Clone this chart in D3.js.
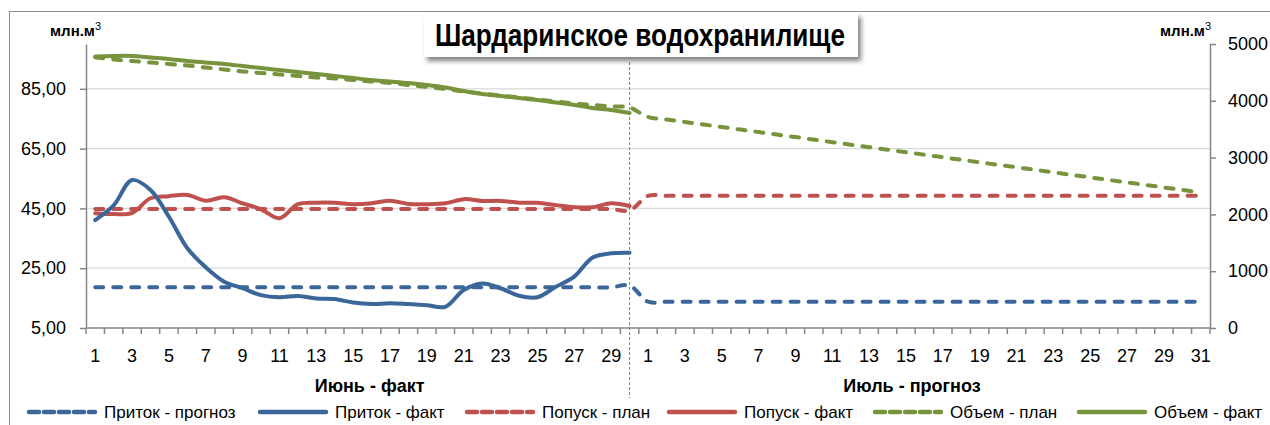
<!DOCTYPE html>
<meta charset="utf-8">
<style>
  body { margin: 0; background: #fff; }
  svg text { font-family: "Liberation Sans Narrow", "Arial Narrow", "Liberation Sans", sans-serif; fill: #000; }
  .axis path, .axis line { stroke: #868686; stroke-width: 1.5; }
  .grid line { stroke: #d9d9d9; stroke-width: 1.2; }
</style>
<body>
<script src="https://d3js.org/d3.v7.min.js"></script>
<script>
var width = 1270,
    height = 425;

// categories: June (fact) then July (forecast)
var juneDays = d3.range(1, 31);
var julyDays = d3.range(1, 32);
var days = juneDays.concat(julyDays);
var groupLabels = ["Июнь - факт", "Июль - прогноз"];

var leftTicks = [5, 25, 45, 65, 85];
var rightTicks = [0, 1000, 2000, 3000, 4000, 5000];

// Приток - прогноз (June + July)
var inflowPlan = [18.6, 18.6, 18.6, 18.6, 18.6, 18.6, 18.6, 18.6, 18.6, 18.6,
  18.6, 18.6, 18.6, 18.6, 18.6, 18.6, 18.6, 18.6, 18.6, 18.6,
  18.6, 18.6, 18.6, 18.6, 18.6, 18.6, 18.6, 18.6, 18.6, 19.2,
  13.8, 13.8, 13.8, 13.8, 13.8, 13.8, 13.8, 13.8, 13.8, 13.8,
  13.8, 13.8, 13.8, 13.8, 13.8, 13.8, 13.8, 13.8, 13.8, 13.8,
  13.8, 13.8, 13.8, 13.8, 13.8, 13.8, 13.8, 13.8, 13.8, 13.8, 13.8];
// Приток - факт (June only)
var inflowFact = [41.1, 46.0, 54.5, 51.2, 42.2, 31.7, 25.3, 20.5, 18.3, 16.0,
  15.3, 15.7, 14.9, 14.7, 13.5, 13.0, 13.3, 13.0, 12.6, 12.1,
  17.7, 19.9, 18.3, 15.8, 15.3, 18.8, 22.2, 28.6, 30.0, 30.2];
// Попуск - план
var releasePlan = [44.8, 44.8, 44.8, 44.8, 44.8, 44.8, 44.8, 44.8, 44.8, 44.8,
  44.8, 44.8, 44.8, 44.8, 44.8, 44.8, 44.8, 44.8, 44.8, 44.8,
  44.8, 44.8, 44.8, 44.8, 44.8, 44.8, 44.8, 44.8, 44.8, 44.3,
  49.2, 49.2, 49.2, 49.2, 49.2, 49.2, 49.2, 49.2, 49.2, 49.2,
  49.2, 49.2, 49.2, 49.2, 49.2, 49.2, 49.2, 49.2, 49.2, 49.2,
  49.2, 49.2, 49.2, 49.2, 49.2, 49.2, 49.2, 49.2, 49.2, 49.2, 49.2];
// Попуск - факт
var releaseFact = [43.4, 43.1, 43.5, 48.4, 49.1, 49.5, 47.6, 48.7, 46.7, 44.7,
  41.7, 46.4, 46.9, 46.9, 46.4, 46.7, 47.6, 46.5, 46.4, 46.7,
  48.1, 47.5, 47.5, 46.9, 46.9, 46.1, 45.4, 45.4, 46.7, 45.8];
// Объем - план (right axis)
var volumePlan = [4766, 4727, 4701, 4674, 4648, 4621, 4586, 4551, 4516, 4489,
  4463, 4437, 4410, 4393, 4366, 4340, 4313, 4278, 4243, 4208,
  4164, 4129, 4093, 4058, 4023, 3988, 3952, 3926, 3900, 3882,
  3715, 3671, 3627, 3583, 3538, 3494, 3450, 3405, 3361, 3317,
  3272, 3228, 3184, 3139, 3095, 3051, 3006, 2962, 2918, 2873,
  2829, 2785, 2740, 2696, 2652, 2607, 2563, 2519, 2474, 2430, 2386];
// Объем - факт (right axis)
var volumeFact = [4780, 4789, 4789, 4762, 4736, 4701, 4674, 4648, 4613, 4577,
  4542, 4507, 4472, 4437, 4401, 4366, 4340, 4313, 4278, 4234,
  4173, 4120, 4085, 4049, 4014, 3970, 3926, 3873, 3838, 3785];

var blue = "#3a6699", red = "#c0504d", green = "#77933c";

var series = [
  { name: "Приток - прогноз", values: inflowPlan, axis: "L", color: blue, dash: true },
  { name: "Приток - факт", values: inflowFact, axis: "L", color: blue, dash: false },
  { name: "Попуск - план", values: releasePlan, axis: "L", color: red, dash: true },
  { name: "Попуск - факт", values: releaseFact, axis: "L", color: red, dash: false },
  { name: "Объем - план", values: volumePlan, axis: "R", color: green, dash: true },
  { name: "Объем - факт", values: volumeFact, axis: "R", color: green, dash: false }
];

var svg = d3.select("body").append("svg")
    .attr("width", width)
    .attr("height", height);

var defs = svg.append("defs");
var f = defs.append("filter").attr("id", "shadow")
    .attr("x", "-10%").attr("y", "-20%").attr("width", "130%").attr("height", "160%");
f.append("feDropShadow").attr("dx", 3).attr("dy", 4)
    .attr("stdDeviation", 2.5).attr("flood-color", "#000").attr("flood-opacity", 0.5);

// outer frame
svg.append("rect")
    .attr("x", 9.5).attr("y", 11.5)
    .attr("width", 1300).attr("height", 450)
    .attr("fill", "none").attr("stroke", "#8c8c8c");

var x = d3.scaleBand().domain(d3.range(days.length)).range([86, 1210]);
var yL = d3.scaleLinear().domain([5, 100]).range([328, 44]);
var yR = d3.scaleLinear().domain([0, 5000]).range([328, 44]);
var cx = function(i) { return x(i) + x.bandwidth() / 2; };

// gridlines
svg.append("g").attr("class", "grid")
  .selectAll("line")
  .data(leftTicks.slice(1))
  .enter().append("line")
    .attr("x1", 86).attr("x2", 1210)
    .attr("y1", function(d) { return yL(d); })
    .attr("y2", function(d) { return yL(d); });

// left axis
var fmt = d3.format(".2f");
svg.append("g").attr("class", "axis")
    .attr("transform", "translate(86,0)")
    .call(d3.axisLeft(yL).tickValues(leftTicks).tickSize(6).tickSizeOuter(0).tickPadding(14)
      .tickFormat(function(d) { return fmt(d).replace(".", ","); }))
    .call(function(g) { g.selectAll("text").style("font-size", "18px"); });

// right axis
svg.append("g").attr("class", "axis")
    .attr("transform", "translate(1210,0)")
    .call(d3.axisRight(yR).tickValues(rightTicks).tickSize(6).tickSizeOuter(0).tickPadding(12)
      .tickFormat(d3.format("d")))
    .call(function(g) { g.selectAll("text").style("font-size", "18px"); });

// x axis
var xg = svg.append("g").attr("class", "axis");
xg.append("line")
    .attr("x1", 86).attr("x2", 1210).attr("y1", 328).attr("y2", 328);
xg.selectAll(".tk")
  .data(d3.range(days.length + 1))
  .enter().append("line")
    .attr("class", "tk")
    .attr("x1", function(i) { return 86 + i * x.step(); })
    .attr("x2", function(i) { return 86 + i * x.step(); })
    .attr("y1", 328).attr("y2", 334);
svg.append("g").selectAll("text")
  .data(days.map(function(d, i) { return { d: d, i: i }; }).filter(function(o) { return o.d % 2 === 1; }))
  .enter().append("text")
    .attr("x", function(o) { return cx(o.i); })
    .attr("y", 362)
    .attr("text-anchor", "middle")
    .style("font-size", "18px")
    .text(function(o) { return o.d; });

// group labels
var groupX = [cx(15) - 2, cx(44) + 6];
svg.append("g").selectAll("text")
  .data(groupLabels)
  .enter().append("text")
    .attr("x", function(d, i) { return groupX[i]; })
    .attr("y", 392)
    .attr("text-anchor", "middle")
    .style("font-size", "18px")
    .style("font-weight", "bold")
    .text(function(d) { return d; });

// divider between fact and forecast
svg.append("line")
    .attr("x1", cx(29)).attr("x2", cx(29))
    .attr("y1", 62).attr("y2", 398)
    .attr("stroke", "#7f7f7f").attr("stroke-width", 1)
    .attr("stroke-dasharray", "3,2");

// lines
var lineL = d3.line()
    .defined(function(d) { return d != null; })
    .x(function(d, i) { return cx(i); })
    .y(function(d) { return yL(d); })
    .curve(d3.curveCatmullRom.alpha(0.5));
var lineR = d3.line()
    .defined(function(d) { return d != null; })
    .x(function(d, i) { return cx(i); })
    .y(function(d) { return yR(d); })
    .curve(d3.curveCatmullRom.alpha(0.5));

var drawOrder = [4, 5, 0, 2, 3, 1];
svg.append("g").selectAll("path")
  .data(drawOrder.map(function(k) { return series[k]; }))
  .enter().append("path")
    .attr("fill", "none")
    .attr("stroke", function(s) { return s.color; })
    .attr("stroke-width", 4)
    .attr("stroke-linecap", "round")
    .attr("stroke-linejoin", "round")
    .attr("stroke-dasharray", function(s) { return s.dash ? "8,10" : null; })
    .attr("d", function(s) { return (s.axis === "L" ? lineL : lineR)(s.values); });

// title box
svg.append("rect")
    .attr("x", 424).attr("y", 13).attr("width", 434).attr("height", 44)
    .attr("fill", "#fff").attr("filter", "url(#shadow)");
svg.append("text")
    .attr("x", 640).attr("y", 46)
    .attr("text-anchor", "middle")
    .attr("textLength", 410)
    .attr("lengthAdjust", "spacingAndGlyphs")
    .style("font-size", "32px").style("font-weight", "bold")
    .text("Шардаринское водохранилище");

// unit labels
[[50, "млн.м"], [1160, "млн.м"]].forEach(function(u) {
  var t = svg.append("text")
      .attr("x", u[0]).attr("y", 36)
      .style("font-size", "15px").style("font-weight", "bold")
      .text(u[1]);
  t.append("tspan").attr("dy", -6).style("font-size", "11px").style("font-weight", "normal").text("3");
});

// legend
var legendX = [27, 258, 465, 667, 873, 1077];
var lg = svg.append("g").selectAll("g")
  .data(series)
  .enter().append("g")
    .attr("transform", function(s, i) { return "translate(" + legendX[i] + ",412)"; });
lg.append("line")
    .attr("x1", 2).attr("x2", 68)
    .attr("stroke", function(s) { return s.color; })
    .attr("stroke-width", 4.5)
    .attr("stroke-linecap", "round")
    .attr("stroke-dasharray", function(s) { return s.dash ? "10,5" : null; });
lg.append("text")
    .attr("x", 77).attr("y", 6)
    .style("font-size", "17px")
    .text(function(s) { return s.name; });
</script>
